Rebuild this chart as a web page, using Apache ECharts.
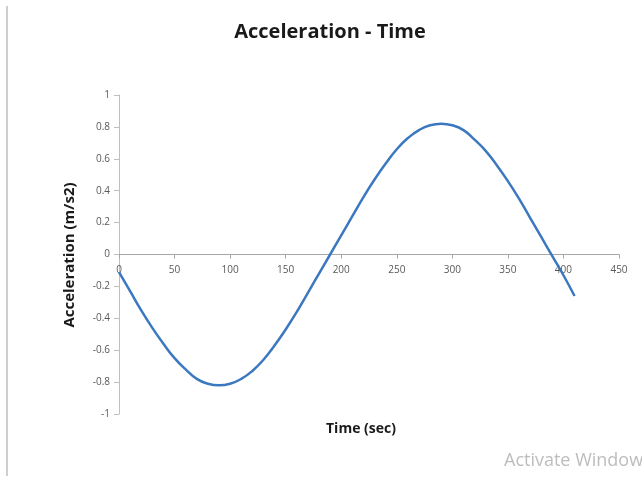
<!DOCTYPE html>
<html>
<head>
<meta charset="utf-8">
<script src="https://cdn.jsdelivr.net/npm/echarts@6/dist/echarts.min.js"></script>
<style>
  html, body { margin: 0; padding: 0; background: #fff; }
  #chart { width: 642px; height: 477px; }
</style>
</head>
<body>
<div id="chart"></div>
<script>
// Time samples (s) and measured acceleration (m/s2)
const times = [0, 10, 20, 30, 40, 50, 60, 70, 80, 90, 100, 110, 120, 130, 140, 150, 160, 170, 180, 190,
  200, 210, 220, 230, 240, 250, 260, 270, 280, 290, 300, 310, 320, 330, 340, 350, 360, 370, 380, 390, 400, 410];
const accel = [-0.11, -0.23, -0.35, -0.46, -0.56, -0.65, -0.72, -0.78, -0.81, -0.82, -0.81, -0.78, -0.73, -0.66,
  -0.57, -0.47, -0.36, -0.24, -0.12, 0.00, 0.12, 0.24, 0.36, 0.47, 0.57, 0.66, 0.73, 0.78, 0.81, 0.82,
  0.81, 0.78, 0.72, 0.65, 0.56, 0.46, 0.35, 0.23, 0.11, -0.01, -0.13, -0.26];

const titleText = 'Acceleration - Time';
const xName = 'Time (sec)';
const yName = 'Acceleration (m/s2)';

const points = times.map((t, i) => [t, accel[i]]);
const font = '"Open Sans", "Noto Sans", sans-serif';

// plot area; the time axis sits on the zero line, half way down
const gridTop = 95, gridBottom = 63;
const plotHeight = 477 - gridTop - gridBottom;

const chart = echarts.init(document.getElementById('chart'));
chart.setOption({
  animation: false,
  backgroundColor: '#ffffff',
  title: {
    text: titleText,
    left: 325,
    textAlign: 'center',
    top: 17,
    textStyle: { fontFamily: font, fontWeight: 'bold', fontSize: 20, color: '#1a1a1a' }
  },
  grid: { left: 119, right: 23, top: gridTop, bottom: gridBottom },
  xAxis: {
    type: 'value',
    min: 0, max: 450, interval: 50,
    offset: -plotHeight / 2,
    axisLine: { onZero: false, lineStyle: { color: '#a6a6a6', width: 1 } },
    axisTick: { show: true, length: 4, lineStyle: { color: '#a6a6a6' } },
    axisLabel: { margin: 11, color: '#595959', fontFamily: font, fontSize: 10 },
    splitLine: { show: false }
  },
  yAxis: {
    type: 'value',
    min: -1, max: 1, interval: 0.2,
    axisLine: { show: true, lineStyle: { color: '#bfbfbf', width: 1 } },
    axisTick: { show: true, length: 5, lineStyle: { color: '#bfbfbf' } },
    axisLabel: { margin: 9, color: '#595959', fontFamily: font, fontSize: 10 },
    splitLine: { show: false }
  },
  graphic: [
    {
      type: 'rect', left: 6, top: 6,
      shape: { width: 2, height: 470 },
      style: { fill: '#cfcfcf' }
    },
    {
      type: 'text',
      rotation: Math.PI / 2,
      x: 70, y: 255,
      style: {
        text: yName, fontFamily: font, fontWeight: 'bold', fontSize: 15,
        fill: '#1a1a1a', textAlign: 'center', textVerticalAlign: 'middle'
      }
    },
    {
      type: 'text', left: 326, top: 422,
      style: { text: xName, fontFamily: font, fontWeight: 'bold', fontSize: 14, fill: '#1a1a1a' }
    },
    {
      type: 'text', left: 504, top: 452,
      style: { text: 'Activate Windows', fontFamily: font, fontSize: 18, fill: '#bdbdbd' }
    }
  ],
  series: [{
    type: 'line',
    data: points,
    smooth: 0.5,
    showSymbol: false,
    lineStyle: { color: '#3c78c0', width: 2.5 }
  }]
});
</script>
</body>
</html>
